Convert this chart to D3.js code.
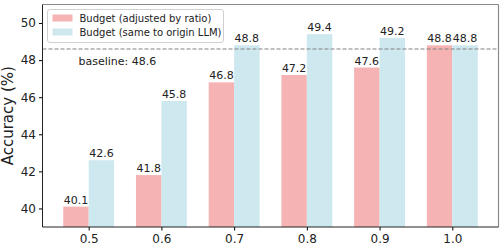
<!DOCTYPE html>
<html>
<head>
<meta charset="utf-8">
<script src="https://cdn.jsdelivr.net/npm/d3@7"></script>
<style>
	body { margin: 0; background: white; }
	text { font-family: "DejaVu Sans", sans-serif; fill: #222; }
</style>
</head>
<body>
<div id="chart"></div>
<script>
// chart data
var ratios = ["0.5", "0.6", "0.7", "0.8", "0.9", "1.0"];
var adjusted = [40.1, 41.8, 46.8, 47.2, 47.6, 48.8];
var sameBudget = [42.6, 45.8, 48.8, 49.4, 49.2, 48.8];
var yTicks = [40, 42, 44, 46, 48, 50];
var baseline = 48.6;
var seriesNames = ["Budget (adjusted by ratio)", "Budget (same to origin LLM)"];

function main() {
	const SVG_WIDTH = 504;
	const SVG_HEIGHT = 250;

	var margin = {top: 4.5, left: 42.5, right: 5.5, bottom: 23};
	var width = SVG_WIDTH - margin.left - margin.right;
	var height = SVG_HEIGHT - margin.top - margin.bottom;

	var colors = ["rgb(246,179,179)", "rgb(206,232,240)"];

	var svg = d3.select("#chart")
		.append("svg")
		.attr("width", SVG_WIDTH)
		.attr("height", SVG_HEIGHT)
		.append("g")
		.attr("transform", "translate(" + margin.left + "," + margin.top + ")");

	// x: index based linear scale, like matplotlib with bar width 0.35
	var barW = 0.35;
	var x = d3.scaleLinear().domain([-0.635, 5.635]).range([0, width]);
	var y = d3.scaleLinear().domain([39, 51]).range([height, 0]);

	var series = [adjusted, sameBudget];

	series.forEach(function(vals, s) {
		var off = s === 0 ? -barW : 0;
		svg.selectAll(".bar" + s)
			.data(vals)
			.enter()
			.append("rect")
			.attr("x", (d, i) => x(i + off))
			.attr("width", x(barW) - x(0))
			.attr("y", d => y(d))
			.attr("height", d => height - y(d))
			.attr("fill", colors[s]);

		svg.selectAll(".lbl" + s)
			.data(vals)
			.enter()
			.append("text")
			.attr("x", (d, i) => x(i + off + barW / 2))
			.attr("y", d => y(d) - 3)
			.attr("text-anchor", "middle")
			.style("font-size", "11px")
			.text(d => d.toFixed(1));
	});

	// baseline
	svg.append("line")
		.attr("x1", 0).attr("x2", width)
		.attr("y1", y(baseline)).attr("y2", y(baseline))
		.attr("stroke", "#808080")
		.attr("stroke-width", 1)
		.attr("stroke-dasharray", "4,2");

	svg.append("text")
		.attr("x", x(-0.14))
		.attr("y", y(baseline) + 16)
		.style("font-size", "11px")
		.text("baseline: " + baseline);

	// axes
	var yAxis = d3.axisLeft(y).tickValues(yTicks).tickSize(3.5).tickPadding(3);
	var gy = svg.append("g").call(yAxis);
	gy.select(".domain").remove();
	gy.selectAll("text").style("font-size", "12px").attr("fill", "#222");

	var xAxis = d3.axisBottom(x).tickValues(d3.range(ratios.length))
		.tickFormat(i => ratios[i]).tickSize(3.5).tickPadding(4);
	var gx = svg.append("g").attr("transform", "translate(0," + height + ")").call(xAxis);
	gx.select(".domain").remove();
	gx.selectAll("text").style("font-size", "12px").attr("fill", "#222");

	// spines: top/right gray, left/bottom dark
	svg.append("line").attr("x1", 0).attr("x2", width).attr("y1", 0).attr("y2", 0)
		.attr("stroke", "#8a8a8a").attr("stroke-width", 1.2);
	svg.append("line").attr("x1", width).attr("x2", width).attr("y1", 0).attr("y2", height)
		.attr("stroke", "#8a8a8a").attr("stroke-width", 1.2);
	svg.append("line").attr("x1", 0).attr("x2", 0).attr("y1", 0).attr("y2", height)
		.attr("stroke", "#222").attr("stroke-width", 1);
	svg.append("line").attr("x1", 0).attr("x2", width).attr("y1", height).attr("y2", height)
		.attr("stroke", "#222").attr("stroke-width", 1);

	// y label
	svg.append("text")
		.attr("transform", "translate(" + (-30) + "," + (height / 2) + ") rotate(-90)")
		.attr("text-anchor", "middle")
		.style("font-size", "15px")
		.text("Accuracy (%)");

	// legend
	var lg = svg.append("g").attr("transform", "translate(5,5)");
	lg.append("rect")
		.attr("width", 176).attr("height", 33)
		.attr("rx", 2.5)
		.attr("fill", "white").attr("fill-opacity", 0.8)
		.attr("stroke", "#d0d0d0");
	seriesNames.forEach(function(name, i) {
		lg.append("rect")
			.attr("x", 5).attr("y", 5 + i * 14)
			.attr("width", 20).attr("height", 7)
			.attr("fill", colors[i]);
		lg.append("text")
			.attr("x", 32).attr("y", 12.5 + i * 14)
			.style("font-size", "10px")
			.text(name);
	});
}

function whenDocumentLoaded(action) {
	if (document.readyState === "loading") {
		document.addEventListener("DOMContentLoaded", action);
	} else {
		action();
	}
}

whenDocumentLoaded(() => {
	main();
});
</script>
</body>
</html>
